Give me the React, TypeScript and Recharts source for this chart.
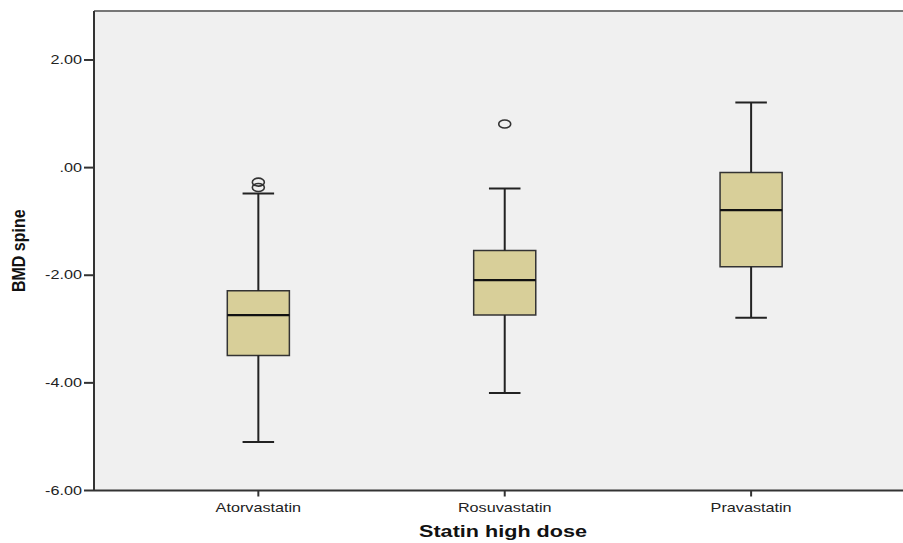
import {
  ComposedChart,
  XAxis,
  YAxis,
  CartesianGrid,
  ReferenceArea,
  ReferenceLine,
  Scatter,
} from 'recharts';

const categories = ['Atorvastatin', 'Rosuvastatin', 'Pravastatin'];
const lowerWhisker = [-5.1, -4.19, -2.79];
const q1 = [-3.49, -2.74, -1.84];
const median = [-2.74, -2.09, -0.79];
const q3 = [-2.29, -1.54, -0.09];
const upperWhisker = [-0.48, -0.39, 1.21];

const outlierGroup = [1, 1, 2];
const outlierValue = [-0.27, -0.37, 0.81];

const yTicks = [-6, -4, -2, 0, 2];

const Y_MIN = -6;
const Y_MAX = 2.91;
const BOX_HALF = 0.126;
const CAP_HALF = 0.064;
const STRETCH = 1.35;
const FONT = 'Arial, "Liberation Sans", sans-serif';

const fmt = (v: number) => {
  const s = Math.abs(v).toFixed(2).replace(/^0/, '');
  return v < 0 ? `-${s}` : s;
};

const YTick = ({ x, y, payload }: any) => (
  <text
    transform={`translate(${x},${y}) scale(${STRETCH},1)`}
    textAnchor="end"
    dominantBaseline="central"
    fontSize={12}
    fontFamily={FONT}
    fill="#222"
  >
    {fmt(payload.value)}
  </text>
);

const XTick = ({ x, y, payload }: any) => (
  <text
    transform={`translate(${x},${y + 13}) scale(${STRETCH},1)`}
    textAnchor="middle"
    fontSize={12}
    fontFamily={FONT}
    fill="#222"
  >
    {categories[payload.value - 1]}
  </text>
);

const Outlier = ({ cx, cy }: any) => (
  <ellipse cx={cx} cy={cy} rx={6} ry={4} fill="none" stroke="#333" strokeWidth={1.6} />
);

export default function App() {
  const outliers = outlierGroup.map((g, i) => ({ x: g, y: outlierValue[i] }));

  return (
    <div style={{ position: 'absolute', left: 0, top: 0, width: 903, height: 543, overflow: 'hidden', background: '#fff' }}>
      <ComposedChart width={912} height={543} margin={{ top: 11, right: 0, bottom: 0, left: 0 }}>
        <CartesianGrid fill="#f0f0f0" horizontal={false} vertical={false} />
        <XAxis
          type="number"
          dataKey="x"
          domain={[0.333, 3.653]}
          ticks={[1, 2, 3]}
          allowDataOverflow
          height={52.5}
          tickSize={6}
          tick={<XTick />}
          axisLine={{ stroke: '#333', strokeWidth: 2 }}
          tickLine={{ stroke: '#333', strokeWidth: 2 }}
          label={{
            content: () => (
              <text
                transform={`translate(503,537) scale(${STRETCH},1)`}
                textAnchor="middle"
                fontSize={16}
                fontWeight="bold"
                fontFamily={FONT}
                fill="#111"
              >
                Statin high dose
              </text>
            ),
          }}
        />
        <YAxis
          type="number"
          domain={[Y_MIN, Y_MAX]}
          ticks={yTicks}
          allowDataOverflow
          width={94}
          tickSize={10}
          tick={<YTick />}
          axisLine={{ stroke: '#333', strokeWidth: 2 }}
          tickLine={{ stroke: '#333', strokeWidth: 2 }}
          label={{
            content: ({ viewBox }: any) => (
              <text
                transform={`translate(${viewBox.x + 25},${viewBox.y + viewBox.height / 2}) scale(1.2,1) rotate(-90)`}
                textAnchor="middle"
                fontSize={16}
                fontWeight="bold"
                fontFamily={FONT}
                fill="#111"
              >
                BMD spine
              </text>
            ),
          }}
        />
        <ReferenceLine y={Y_MAX} stroke="#777" strokeWidth={2} />

        {categories.map((_, i) => (
          <ReferenceLine
            key={`wu${i}`}
            segment={[
              { x: i + 1, y: q3[i] },
              { x: i + 1, y: upperWhisker[i] },
            ]}
            stroke="#222"
            strokeWidth={2}
          />
        ))}
        {categories.map((_, i) => (
          <ReferenceLine
            key={`wl${i}`}
            segment={[
              { x: i + 1, y: q1[i] },
              { x: i + 1, y: lowerWhisker[i] },
            ]}
            stroke="#222"
            strokeWidth={2}
          />
        ))}
        {categories.map((_, i) => (
          <ReferenceLine
            key={`cu${i}`}
            segment={[
              { x: i + 1 - CAP_HALF, y: upperWhisker[i] },
              { x: i + 1 + CAP_HALF, y: upperWhisker[i] },
            ]}
            stroke="#222"
            strokeWidth={2}
          />
        ))}
        {categories.map((_, i) => (
          <ReferenceLine
            key={`cl${i}`}
            segment={[
              { x: i + 1 - CAP_HALF, y: lowerWhisker[i] },
              { x: i + 1 + CAP_HALF, y: lowerWhisker[i] },
            ]}
            stroke="#222"
            strokeWidth={2}
          />
        ))}
        {categories.map((_, i) => (
          <ReferenceArea
            key={`b${i}`}
            x1={i + 1 - BOX_HALF}
            x2={i + 1 + BOX_HALF}
            y1={q1[i]}
            y2={q3[i]}
            fill="#d8cf99"
            fillOpacity={1}
            stroke="#333"
            strokeWidth={1.5}
          />
        ))}
        {categories.map((_, i) => (
          <ReferenceLine
            key={`m${i}`}
            segment={[
              { x: i + 1 - BOX_HALF, y: median[i] },
              { x: i + 1 + BOX_HALF, y: median[i] },
            ]}
            stroke="#111"
            strokeWidth={2.2}
          />
        ))}
        <Scatter data={outliers} dataKey="y" shape={<Outlier />} isAnimationActive={false} />
      </ComposedChart>
    </div>
  );
}
